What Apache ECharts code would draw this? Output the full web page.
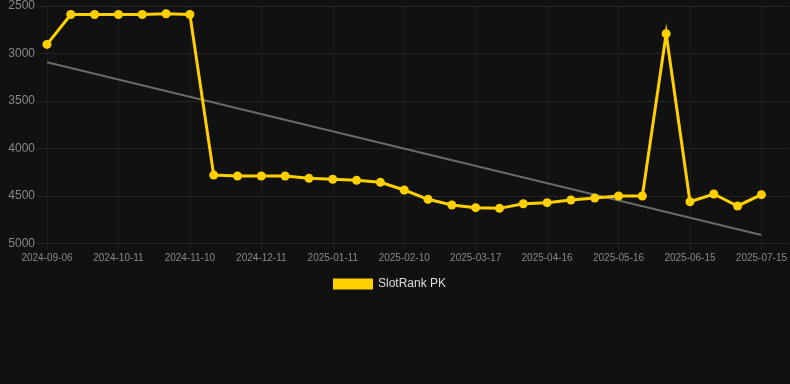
<!DOCTYPE html>
<html>
<head>
<meta charset="utf-8">
<script src="https://cdn.jsdelivr.net/npm/echarts@6/dist/echarts.min.js"></script>
<style>
html,body{margin:0;padding:0;background:#111111;}
#chart{width:790px;height:384px;}
</style>
</head>
<body>
<div id="chart"></div>
<script>
var categories = [
  '2024-09-06','2024-09-18','2024-09-30','2024-10-11','2024-10-21','2024-10-31',
  '2024-11-10','2024-11-20','2024-12-01','2024-12-11','2024-12-21','2025-01-01',
  '2025-01-11','2025-01-21','2025-01-31','2025-02-10','2025-02-21','2025-03-06',
  '2025-03-17','2025-03-27','2025-04-06','2025-04-16','2025-04-26','2025-05-06',
  '2025-05-16','2025-05-26','2025-06-05','2025-06-15','2025-06-25','2025-07-05',
  '2025-07-15'
];
var rankValues = [
  2904, 2590, 2590, 2590, 2590, 2582, 2590,
  4280, 4290, 4290, 4290, 4314, 4324, 4335, 4356,
  4437, 4535, 4595, 4623, 4630, 4581, 4570, 4542,
  4521, 4500, 4500, 2792, 4560, 4479, 4605, 4486
];
var labelIndices = [0, 3, 6, 9, 12, 15, 18, 21, 24, 27, 30];
var trendStart = 3093;
var trendEnd = 4911;
var seriesName = 'SlotRank PK';

var rankData = rankValues.map(function (v, i) { return [i, v]; });
var trendData = [[0, trendStart], [categories.length - 1, trendEnd]];

var chart = echarts.init(document.getElementById('chart'), null, {renderer: 'canvas'});
chart.setOption({
  backgroundColor: '#111111',
  animation: false,
  grid: {left: 37, right: 0, top: 6, bottom: 140.5, containLabel: false},
  legend: {
    data: [{name: seriesName, icon: 'rect'}],
    left: 333, top: 278, padding: 0,
    itemWidth: 40, itemHeight: 11, itemGap: 10,
    textStyle: {color: '#dddddd', fontSize: 12, fontFamily: 'Liberation Sans, Arial, sans-serif'}
  },
  xAxis: {
    type: 'value',
    min: -0.42, max: 31.17,
    axisLine: {show: false},
    axisTick: {show: true, customValues: labelIndices, length: 6, lineStyle: {color: '#222222'}},
    axisLabel: {
      customValues: labelIndices,
      color: '#888888', fontSize: 10, margin: 10,
      fontFamily: 'Liberation Sans, Arial, sans-serif',
      formatter: function (v) { return categories[Math.round(v)] || ''; }
    },
    splitLine: {show: true, lineStyle: {color: '#1d1d1d', width: 1}}
  },
  yAxis: {
    type: 'value',
    inverse: true,
    min: 2500, max: 5000, interval: 500,
    axisLine: {show: false},
    axisTick: {show: false},
    axisLabel: {color: '#888888', fontSize: 12, margin: 2, fontFamily: 'Liberation Sans, Arial, sans-serif',
      formatter: function (v) { return String(v); }},
    splitLine: {show: true, lineStyle: {color: '#252525', width: 1}}
  },
  series: [
    {
      name: seriesName,
      type: 'line',
      data: rankData,
      color: '#ffd000',
      lineStyle: {color: '#ffd000', width: 3, join: 'miter', miterLimit: 10},
      itemStyle: {color: '#ffd000'},
      symbol: 'circle',
      symbolSize: 9,
      z: 3
    },
    {
      name: 'trend',
      type: 'line',
      data: trendData,
      symbol: 'none',
      lineStyle: {color: '#6a6a6a', width: 2},
      itemStyle: {color: '#6a6a6a'},
      z: 2
    }
  ]
});
</script>
</body>
</html>
